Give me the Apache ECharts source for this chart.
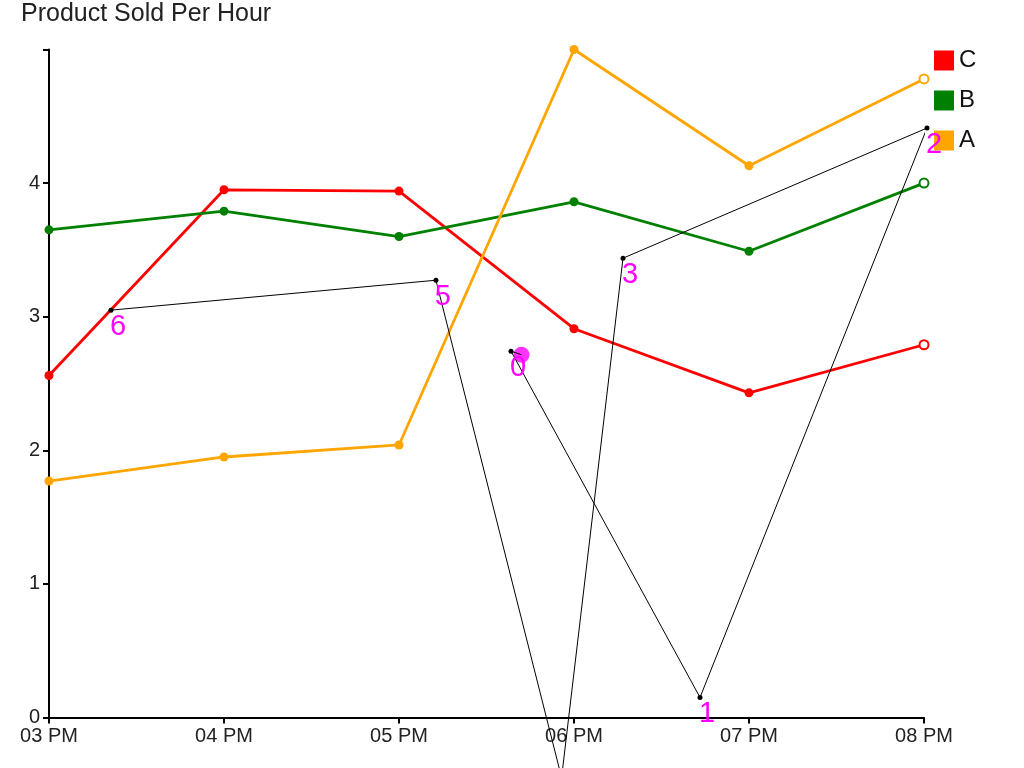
<!DOCTYPE html>
<html>
<head>
<meta charset="utf-8">
<script src="https://cdn.jsdelivr.net/npm/echarts@6/dist/echarts.min.js"></script>
<style>
html,body{margin:0;padding:0;background:#fff;}
#chart{width:1024px;height:768px;}
</style>
</head>
<body>
<div id="chart"></div>
<script>
// Data
var hours = ['03 PM', '04 PM', '05 PM', '06 PM', '07 PM', '08 PM'];
var seriesC = [2.56, 3.95, 3.94, 2.91, 2.43, 2.79];
var seriesB = [3.65, 3.79, 3.60, 3.86, 3.49, 4.00];
var seriesA = [1.77, 1.95, 2.04, 5.00, 4.13, 4.78];
// annotation path (x in hours since 03 PM)
var pathX = [2.64, 3.72, 5.017, 3.28, 2.929, 2.211, 0.354];
var pathY = [2.742, 0.15, 4.412, 3.438, -0.449, 3.273, 3.049];
var pathLabels = ['0', '1', '2', '3', '4', '5', '6'];
var markerX = 2.70, markerY = 2.715;

var colors = {C: '#ff0000', B: '#008000', A: '#ffa500'};

function mkSeries(name, vals) {
  var c = colors[name];
  return {
    name: name,
    type: 'line',
    data: vals.map(function (v, i) {
      var d = {value: [i, v]};
      if (i === vals.length - 1) {
        d.itemStyle = {color: '#fff', borderColor: c, borderWidth: 2};
        d.symbolSize = 9;
      }
      return d;
    }),
    color: c,
    lineStyle: {width: 2.8, color: c},
    itemStyle: {color: c, borderColor: c, borderWidth: 0},
    symbol: 'circle',
    symbolSize: 9,
    showAllSymbol: true,
    animation: false,
    z: 3
  };
}

var pathData = pathX.map(function (x, i) {
  return {value: [x, pathY[i]], label: {show: true, formatter: pathLabels[i]}};
});

var chart = echarts.init(document.getElementById('chart'), null, {renderer: 'canvas'});
chart.setOption({
  animation: false,
  backgroundColor: '#fff',
  title: {
    text: 'Product Sold Per Hour',
    left: 16, top: -3,
    textStyle: {fontFamily: 'Liberation Sans, Arial, sans-serif', fontSize: 25, fontWeight: 'normal', color: '#222'}
  },
  legend: {
    data: ['C', 'B', 'A'],
    orient: 'vertical',
    left: 934, top: 48.5, padding: 0,
    icon: 'rect',
    itemWidth: 20, itemHeight: 20, itemGap: 16,
    textStyle: {fontFamily: 'Liberation Sans, Arial, sans-serif', fontSize: 24, lineHeight: 20, color: '#111'},
    selectedMode: false
  },
  grid: {left: 49, right: 100, top: 49.5, bottom: 50.5, containLabel: false},
  xAxis: {
    type: 'value', min: 0, max: 5, interval: 1,
    axisLine: {show: true, lineStyle: {color: '#000', width: 2}},
    axisTick: {show: true, length: 6, lineStyle: {color: '#000', width: 2}},
    splitLine: {show: false},
    axisLabel: {
      margin: 9,
      fontFamily: 'Liberation Sans, Arial, sans-serif', fontSize: 20, color: '#222',
      formatter: function (v) { return hours[Math.round(v)] || ''; }
    }
  },
  yAxis: {
    type: 'value', min: 0, max: 5, interval: 1,
    axisLine: {show: true, lineStyle: {color: '#000', width: 2}},
    axisTick: {show: true, length: 6, lineStyle: {color: '#000', width: 2}},
    splitLine: {show: false},
    axisLabel: {
      margin: 9,
      fontFamily: 'Liberation Sans, Arial, sans-serif', fontSize: 20, color: '#222',
      formatter: function (v) { return v === 5 ? '' : String(v); }
    }
  },
  series: [
    mkSeries('C', seriesC),
    mkSeries('B', seriesB),
    mkSeries('A', seriesA),
    {
      name: 'path',
      type: 'line',
      data: pathData,
      clip: false,
      symbol: 'circle',
      symbolSize: 5,
      showAllSymbol: true,
      lineStyle: {width: 1, color: '#000'},
      itemStyle: {color: '#000'},
      label: {
        position: 'inside', offset: [7, 17],
        fontFamily: 'Liberation Sans, Arial, sans-serif', fontSize: 29, color: '#ff00ff'
      },
      z: 4
    },
    {
      name: 'marker',
      type: 'line',
      data: [[pathX[0], pathY[0]], [markerX, markerY]],
      clip: false,
      symbol: 'none',
      lineStyle: {width: 1, color: '#000'},
      z: 4
    },
    {
      name: 'markerDot',
      type: 'scatter',
      data: [[markerX, markerY]],
      clip: false,
      symbol: 'circle',
      symbolSize: 16,
      itemStyle: {color: '#ff00ff'},
      z: 3
    }
  ]
});
</script>
</body>
</html>
